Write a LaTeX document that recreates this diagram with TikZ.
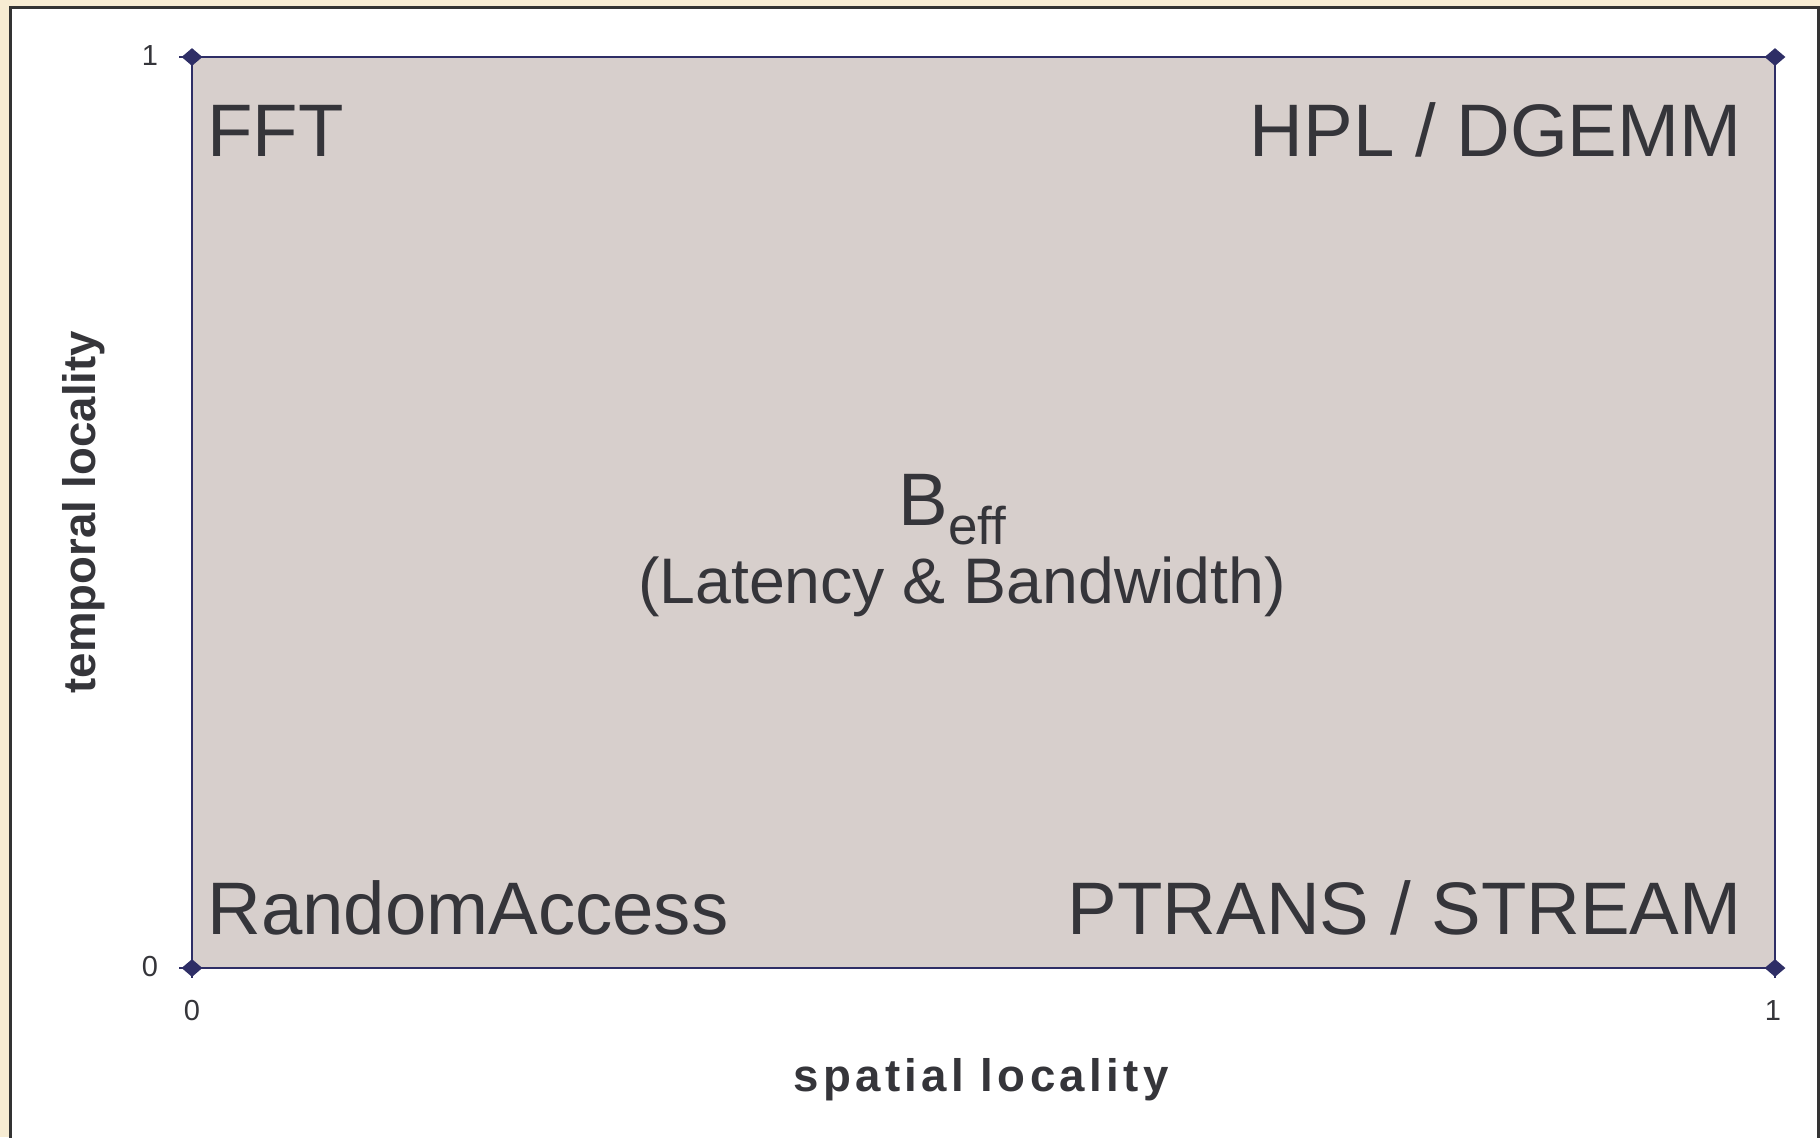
\documentclass[tikz,border=0pt]{standalone}
\usepackage{fontspec}
\setmainfont{Liberation Sans}
\usetikzlibrary{shapes.geometric}
\definecolor{cream}{HTML}{F7ECD3}
\definecolor{panelborder}{HTML}{333333}
\definecolor{boxfill}{HTML}{D7CFCC}
\definecolor{navy}{HTML}{2E2E66}
\definecolor{ink}{HTML}{35353A}
\begin{document}
\begin{tikzpicture}[x=0.5pt,y=-0.5pt,
  big/.style={inner sep=0pt, text=ink, font=\fontsize{37.2pt}{40pt}\selectfont},
  mid/.style={inner sep=0pt, text=ink, font=\fontsize{32.2pt}{34pt}\selectfont},
  ticklbl/.style={inner sep=0pt, text=ink, font=\fontsize{14.5pt}{16pt}\selectfont, anchor=base},
  axislbl/.style={inner sep=0pt, text=ink, font=\bfseries\fontsize{22.8pt}{26pt}\selectfont, anchor=base},
  marker/.style={shape=diamond, fill=navy, inner sep=0pt, minimum width=10.5pt, minimum height=9pt},
  plotbox/.style={fill=boxfill, draw=navy, line width=1pt},
  tickmark/.style={draw=navy, line width=0.6pt}
]
\useasboundingbox (0,0) rectangle (1820,1137);
\fill[cream] (0,0) rectangle (1820,1137);
\fill[white] (10,7) rectangle (1818,1137);
\draw[panelborder, line width=1.5pt] (10,1140) |- (1818,7) -- (1818,1140);

% plot area
\coordinate (o) at (192,968);
\coordinate (t) at (1775,57);
\coordinate (ul) at (192,57);
\coordinate (lr) at (1775,968);
\draw[plotbox] (o) rectangle (t);

% tick marks
\draw[tickmark] (o) -- ++(-13,0);
\draw[tickmark] (o) -- ++(0,10);
\draw[tickmark] (ul) -- ++(-13,0);
\draw[tickmark] (lr) -- ++(0,10);

% corner markers
\node[marker] (m00) at (o) {};
\node[marker] (m01) at (ul) {};
\node[marker] (m10) at (lr) {};
\node[marker] (m11) at (t) {};

% tick labels
\node[ticklbl] (y1) at (150,65) {1};
\node[ticklbl] (y0) at (150,976) {0};
\node[ticklbl] (x0) at (192,1020) {0};
\node[ticklbl] (x1) at (1773,1020) {1};

% axis labels
\node[axislbl] (xlab) at (981,1091) {\addfontfeature{LetterSpace=9.5}spatial locality};
\node[axislbl, rotate=90] (ylab) at (95,512) {temporal locality};

% quadrant labels
\node[big, anchor=base west] (fft) at (207,156) {FFT};
\node[big, anchor=base east] (hpl) at (1742,156) {HPL / DGEMM};
\node[big, anchor=base west] (ra) at (207,934) {RandomAccess};
\node[big, anchor=base east] (ptrans) at (1742,934) {PTRANS / STREAM};

% centre label
\node[big, anchor=base west] (beff) at (898,525) {B\raisebox{-9.5pt}{\fontsize{26.5pt}{28pt}\selectfont eff}};
\node[mid, anchor=base] (latbw) at (962,603) {(Latency \& Bandwidth)};
\end{tikzpicture}
\end{document}
